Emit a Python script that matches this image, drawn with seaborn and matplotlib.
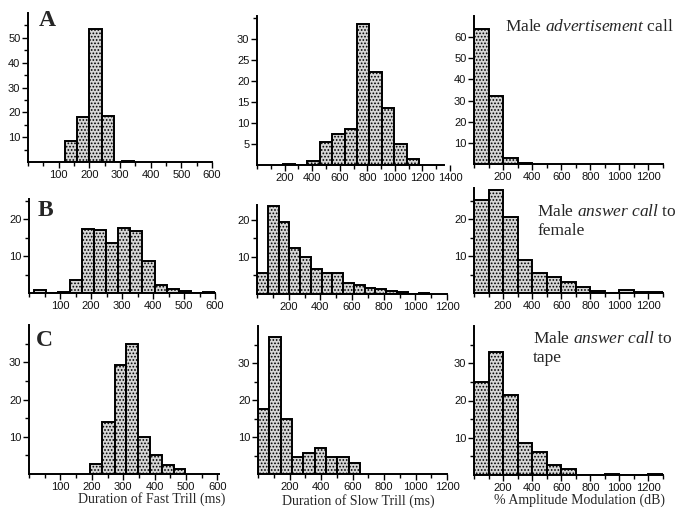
import numpy as np
import pandas as pd
import matplotlib
matplotlib.use("Agg")
import matplotlib.pyplot as plt
import seaborn as sns

sns.set_theme(style="ticks")
plt.rcParams["font.family"] = ["Liberation Sans", "DejaVu Sans"]
plt.rcParams["mathtext.fontset"] = "custom"
plt.rcParams["mathtext.rm"] = "Liberation Serif"
plt.rcParams["mathtext.it"] = "Liberation Serif:italic"
plt.rcParams["hatch.linewidth"] = 0.8
plt.rcParams["hatch.color"] = "#333333"

# --- row A: male advertisement call ---
a_fast_edges = [120, 160, 200, 240, 280, 305, 345]
a_fast_counts = [8.5, 18, 53.5, 18.5, 0, 0.6]
a_slow_edges = [185, 275, 365, 455, 545, 635, 725, 815, 905, 995, 1085, 1175]
a_slow_counts = [0.3, 0, 1.0, 5.5, 7.4, 8.6, 33.7, 22.1, 13.6, 5.0, 1.4]
a_amp_edges = [0, 100, 200, 300, 400]
a_amp_counts = [64, 32, 2.8, 0.6]

# --- row B: answer call to female ---
b_fast_edges = [15, 54, 93, 132, 171, 210, 249, 288, 327, 366, 405, 444, 483, 522, 561, 600]
b_fast_counts = [0.9, 0, 0.3, 3.6, 17.3, 17.1, 13.5, 17.7, 16.8, 8.6, 2.3, 1.2, 0.5, 0, 0.3]
b_slow_edges = [0, 68, 136, 204, 272, 340, 408, 476, 544, 612, 680, 748, 816, 884, 952, 1020, 1088]
b_slow_counts = [5.7, 23.8, 19.4, 12.5, 10.0, 6.7, 5.7, 5.7, 3.0, 2.4, 1.5, 1.25, 0.9, 0.45, 0, 0.3]
b_amp_edges = [0, 100, 200, 300, 400, 500, 600, 700, 800, 900, 1000, 1100, 1200, 1300]
b_amp_counts = [25.2, 28, 20.7, 8.9, 5.3, 4.4, 2.9, 1.6, 0.5, 0, 0.8, 0.2, 0.2]

# --- row C: answer call to tape ---
c_fast_edges = [195, 234, 273, 310, 348, 384, 424, 461, 496]
c_fast_counts = [2.8, 13.9, 29.3, 34.8, 10, 5.1, 2.4, 1.3]
c_slow_edges = [0, 72, 144, 216, 288, 360, 432, 504, 576, 648]
c_slow_counts = [17.7, 37, 15, 4.6, 5.8, 7.1, 4.6, 4.6, 3.0]
c_amp_edges = [0, 100, 200, 300, 400, 500, 600, 700, 800, 900, 1000, 1100, 1200, 1300]
c_amp_counts = [24.9, 32.9, 21.5, 8.5, 6.05, 2.8, 1.5, 0, 0, 0.25, 0, 0, 0.25]

fast_ticks = [100, 200, 300, 400, 500, 600]
slow_ticks_a = [200, 400, 600, 800, 1000, 1200, 1400]
wide_ticks = [200, 400, 600, 800, 1000, 1200]

W, H = 682, 519
fig = plt.figure(figsize=(W / 100, H / 100), dpi=100)


def add_axes(left, right, top, bottom):
    return fig.add_axes([left / W, 1 - bottom / H, (right - left) / W, (bottom - top) / H])


def draw(box, edges, counts, xlim, ylim, yticks, ystep, xticks, xstep, spine_end=None):
    ax = add_axes(*box)
    e = np.asarray(edges, dtype=float)
    df = pd.DataFrame({"x": (e[:-1] + e[1:]) / 2, "n": counts})
    sns.histplot(data=df, x="x", weights="n", bins=list(edges), ax=ax, color="#d6d6d6",
                 edgecolor="black", linewidth=1.4, alpha=1, hatch=".....")
    ax.set_xlim(*xlim)
    ax.set_ylim(*ylim)
    ax.set_xlabel("")
    ax.set_ylabel("")
    ax.set_yticks(yticks)
    ax.set_yticks(np.arange(ystep, ylim[1], ystep), minor=True)
    ax.set_xticks(xticks)
    ax.set_xticks(np.arange(0, xlim[1] + 1, xstep), minor=True)
    ax.tick_params(which="both", direction="out", width=1, labelsize=8, pad=1.5, color="black",
                   labelcolor="#111111")
    ax.tick_params(which="major", length=4)
    ax.tick_params(which="minor", length=3)
    for s in ["top", "right"]:
        ax.spines[s].set_visible(False)
    for s in ["left", "bottom"]:
        ax.spines[s].set_linewidth(1.4)
        ax.spines[s].set_color("black")
    if spine_end is not None:
        ax.spines["bottom"].set_bounds(0, spine_end)
    ax.set_facecolor("white")
    return ax


draw((28, 212, 13, 162), a_fast_edges, a_fast_counts, (0, 600), (0, 60), [10, 20, 30, 40, 50], 5, fast_ticks, 50)
draw((257, 450, 16, 165), a_slow_edges, a_slow_counts, (0, 1400), (0, 35.5), [5, 10, 15, 20, 25, 30], 5, slow_ticks_a, 100, spine_end=1355)
draw((474, 663, 16, 164), a_amp_edges, a_amp_counts, (0, 1300), (0, 70), [10, 20, 30, 40, 50, 60], 10, wide_ticks, 100)

draw((29, 215, 199, 293), b_fast_edges, b_fast_counts, (0, 600), (0, 25.5), [10, 20], 5, fast_ticks, 50)
draw((257, 447, 205, 294), b_slow_edges, b_slow_counts, (0, 1200), (0, 24), [10, 20], 5, wide_ticks, 100)
draw((474, 663, 188, 293), b_amp_edges, b_amp_counts, (0, 1300), (0, 28.5), [10, 20], 5, wide_ticks, 100)

draw((29, 219, 325, 474), c_fast_edges, c_fast_counts, (0, 605), (0, 40), [10, 20, 30], 5, fast_ticks, 50)
draw((258, 447, 326, 474), c_slow_edges, c_slow_counts, (0, 1200), (0, 40), [10, 20, 30], 5, wide_ticks, 100)
draw((474, 663, 326, 475), c_amp_edges, c_amp_counts, (0, 1300), (0, 40), [10, 20, 30], 5, wide_ticks, 100)


def ftext(x, y, s, **kw):
    fig.text(x / W, 1 - y / H, s, **kw)


serif = ["Liberation Serif", "DejaVu Serif"]
for letter, (x, y) in zip("ABC", [(39, 21), (38, 210), (36, 340)]):
    ftext(x, y, letter, family=serif, fontsize=17, fontweight="bold", va="center", ha="left")

ftext(505, 27, r"Male $\mathit{advertisement}$ call", family=serif, fontsize=12.5, va="center", ha="left")
ftext(537, 212, r"Male $\mathit{answer\ call}$ to", family=serif, fontsize=12.5, va="center", ha="left")
ftext(537, 231, "female", family=serif, fontsize=12.5, va="center", ha="left")
ftext(533, 339, r"Male $\mathit{answer\ call}$ to", family=serif, fontsize=12.5, va="center", ha="left")
ftext(533, 358, "tape", family=serif, fontsize=12.5, va="center", ha="left")

ftext(152, 499, "Duration of Fast Trill (ms)", family=serif, fontsize=10, va="center", ha="center")
ftext(358, 501, "Duration of Slow Trill (ms)", family=serif, fontsize=10, va="center", ha="center")
ftext(580, 500, "% Amplitude Modulation (dB)", family=serif, fontsize=10, va="center", ha="center")

fig.savefig("out.png", dpi=100, facecolor="white")
